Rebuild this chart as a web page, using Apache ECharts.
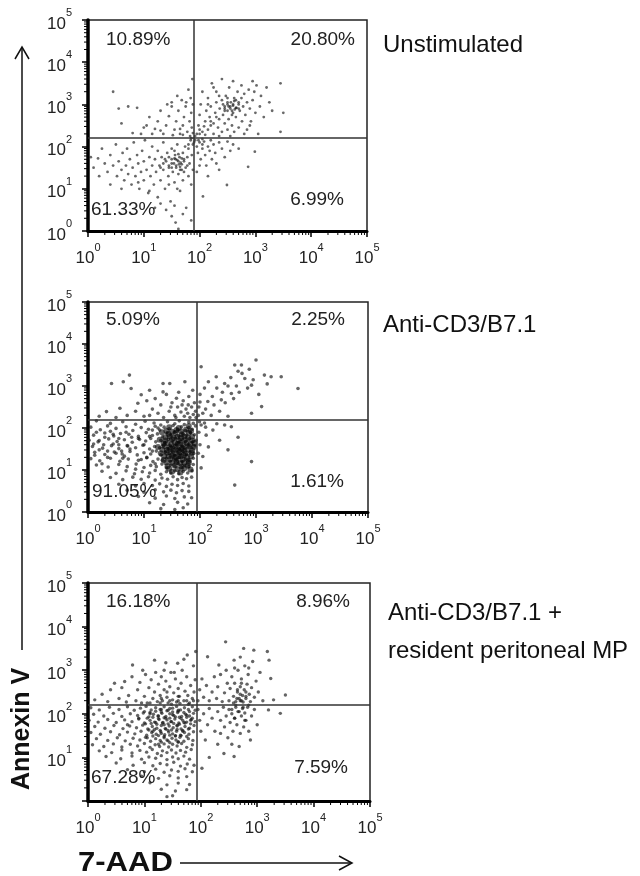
<!DOCTYPE html>
<html>
<head>
<meta charset="utf-8">
<script src="https://cdn.jsdelivr.net/npm/echarts@6/dist/echarts.min.js"></script>
<style>
html,body{margin:0;padding:0;background:#fff}
#chart{width:640px;height:876px}
</style>
</head>
<body>
<div id="chart"></div>
<script>
// values are log10 of the fluorescence: [7-AAD, Annexin V]
var decades = [0, 1, 2, 3, 4, 5];
var panelNames = ['Unstimulated', 'Anti-CD3/B7.1', 'Anti-CD3/B7.1 +', 'resident peritoneal MP'];
// quadrant percentages: upper-left, upper-right, lower-left, lower-right
var quadPct = [
  ['10.89%', '20.80%', '61.33%', '6.99%'],
  ['5.09%', '2.25%', '91.05%', '1.61%'],
  ['16.18%', '8.96%', '67.28%', '7.59%']
];
var gateX = [1.9, 1.95, 1.92];
var gateY = [2.21, 2.19, 2.2];

var unstimulated = [
  [0.45,3.3],[0.55,2.9],[0.72,2.95],[0.88,2.92],[0.6,2.55],[0.95,2.3],[1.05,2.5],[1.1,2.7],[1.2,2.42],[1.25,2.6],[1.3,2.85],[1.35,2.3],[1.4,2.5],[1.45,2.72],[1.5,2.95],[1.5,3.05],[1.55,2.4],[1.58,2.6],[1.62,2.85],[1.65,2.3],[1.68,3.1],[1.7,2.5],[1.72,2.7],[1.75,2.95],[1.78,2.35],[1.8,3.35],[1.82,2.6],[1.85,2.8],[1.86,2.45],[1.88,3.0],[1.87,3.6],[1.15,2.3],[1.0,2.45],[0.8,2.32],[1.42,3.0],[1.6,3.2],[1.76,3.05],[1.84,3.15],[1.3,2.38],[1.52,2.27],[1.7,2.28],[1.83,2.25],[1.65,2.42],[1.88,2.32],
  [1.95,2.3],[1.98,2.5],[2.0,2.75],[2.02,3.0],[2.05,3.3],[2.05,2.35],[2.1,2.6],[2.12,2.85],[2.15,3.15],[2.15,2.4],[2.18,2.7],[2.2,2.95],[2.22,3.5],[2.25,2.3],[2.25,2.55],[2.28,2.8],[2.3,3.05],[2.3,3.3],[2.33,2.45],[2.35,2.65],[2.36,2.9],[2.4,3.1],[2.4,2.35],[2.42,2.75],[2.45,2.55],[2.45,2.95],[2.47,3.2],[2.5,2.85],[2.5,3.0],[2.52,2.65],[2.53,3.4],[2.55,2.9],[2.56,3.05],[2.58,2.5],[2.6,2.8],[2.6,2.97],[2.62,3.15],[2.65,2.7],[2.66,2.92],[2.68,3.3],[2.7,2.45],[2.7,3.05],[2.72,2.85],[2.75,3.15],[2.76,2.6],[2.78,2.95],[2.8,3.25],[2.82,2.75],[2.85,3.05],[2.85,2.4],[2.88,3.35],[2.9,2.9],[2.92,2.6],[2.95,3.1],[2.98,3.3],[3.0,2.8],[3.02,3.45],[3.05,2.3],[3.08,2.95],[3.1,3.2],[3.15,2.7],[3.2,3.4],[3.25,3.05],[3.3,2.85],[3.45,3.5],[3.5,2.8],[3.45,2.35],[2.9,2.5],[2.55,2.25],[2.35,2.25],[2.1,2.28],[2.0,2.4],[2.08,2.48],[2.2,2.5],[2.5,2.4],[2.62,2.35],[2.8,2.3],[2.4,3.6],[2.25,3.4],[2.6,3.55],[2.75,3.45],[2.95,3.55],[2.15,3.0],[2.35,3.2],[2.5,3.15],[2.65,3.1],[2.45,2.85],[2.58,2.75],[2.7,2.9],[2.52,2.95],[2.63,2.88],
  [0.05,1.75],[0.18,1.72],[0.25,1.95],[0.3,1.6],[0.35,1.4],[0.4,1.8],[0.45,1.55],[0.5,2.05],[0.52,1.3],[0.55,1.65],[0.6,1.45],[0.62,1.85],[0.65,1.2],[0.68,1.55],[0.7,1.95],[0.72,1.35],[0.75,1.7],[0.78,1.1],[0.8,1.5],[0.82,2.1],[0.85,1.3],[0.88,1.8],[0.9,1.6],[0.92,1.0],[0.95,1.4],[0.97,1.9],[1.0,1.2],[1.0,1.65],[1.02,2.15],[1.05,1.45],[1.08,0.9],[1.1,1.75],[1.12,1.3],[1.15,1.55],[1.15,2.0],[1.18,1.1],[1.2,1.7],[1.22,1.4],[1.25,1.9],[1.25,0.8],[1.28,1.55],[1.3,1.2],[1.32,1.75],[1.35,2.1],[1.35,1.45],[1.38,1.0],[1.4,1.65],[1.42,1.85],[1.44,1.3],[1.45,1.55],[1.48,0.7],[1.5,1.7],[1.5,1.95],[1.52,1.4],[1.54,1.6],[1.55,1.15],[1.56,1.8],[1.58,1.5],[1.6,1.68],[1.6,2.05],[1.62,1.35],[1.63,1.58],[1.64,1.75],[1.65,0.95],[1.66,1.62],[1.68,1.45],[1.7,1.85],[1.7,1.2],[1.72,1.65],[1.74,2.0],[1.75,1.5],[1.76,0.55],[1.78,1.75],[1.8,1.3],[1.8,1.95],[1.82,1.6],[1.84,2.15],[1.85,1.1],[1.86,1.8],[1.88,1.45],[1.88,2.05],[1.57,0.2],[1.62,0.05],[1.5,0.35],[1.7,0.4],[1.55,0.6],[1.4,0.5],[1.3,0.65],[1.2,0.55],[1.85,0.25],[0.2,1.3],[0.1,1.5],[0.4,1.1],[0.6,1.0],[0.9,1.15],[1.1,0.95],[1.45,1.1],[1.6,1.0],[1.35,1.6],[1.5,1.5],[1.57,1.7],[1.65,1.52],[1.62,1.82],[1.72,1.4],[1.45,1.75],[1.55,1.9],[1.78,1.55],[1.68,1.72],
  [1.92,2.15],[1.95,2.0],[1.97,1.85],[2.0,2.1],[2.02,1.7],[2.05,1.95],[2.08,2.12],[2.1,1.8],[2.12,1.55],[2.15,2.0],[2.15,1.3],[2.18,1.9],[2.2,2.15],[2.22,1.7],[2.25,2.05],[2.28,1.85],[2.3,1.6],[2.35,2.1],[2.4,1.95],[2.45,1.75],[2.5,2.12],[2.55,1.9],[2.6,2.05],[2.7,1.95],[2.87,1.52],[2.99,1.88],[2.49,1.09],[2.06,0.82],[1.95,1.4],[2.0,1.55],[2.35,1.45],[2.05,2.18]
];
// denser spots of the unstimulated cloud
var unstimulatedDense = [
  [1.5,1.6],[1.58,1.55],[1.62,1.65],[1.68,1.58],[1.55,1.72],[1.45,1.5],[1.72,1.7],[1.65,1.45],[1.38,1.7],[1.3,1.5],
  [1.85,2.2],[1.92,2.25],[1.98,2.15],[1.9,2.1],[2.0,2.3],[1.8,2.05],[2.05,2.05],
  [2.45,2.9],[2.55,2.95],[2.6,3.0],[2.5,3.05],[2.65,2.92],[2.58,2.85],[2.7,3.0],[2.42,3.0],[2.62,3.08],[2.3,2.7],[2.2,2.6]
];

var antiCD3 = [
  [0.42,3.06],[0.63,3.1],[0.74,3.26],[0.77,2.94],[0.95,2.79],[1.1,2.9],[1.34,3.06],[1.46,3.06],[1.73,3.1],[1.34,2.86],[1.58,2.71],[1.79,2.55],[0.33,2.39],[0.57,2.47],[0.89,2.59],[1.05,2.65],[1.15,2.45],[1.2,2.7],[1.25,2.35],[1.3,2.55],[1.4,2.8],[1.45,2.4],[1.5,2.6],[1.55,2.3],[1.6,2.5],[1.62,2.85],[1.66,2.38],[1.7,2.65],[1.72,2.28],[1.75,2.45],[1.78,2.35],[1.8,2.75],[1.82,2.25],[1.85,2.5],[1.88,2.32],[1.9,2.6],[1.92,2.4],[0.7,2.3],[0.85,2.4],[1.0,2.28],[0.5,2.25],[1.1,2.3],[1.35,2.25],[1.48,2.5],[1.68,2.55],[1.57,2.25],[1.87,2.9],[1.93,2.25],[0.2,2.28],
  [2.02,3.46],[2.29,3.22],[2.62,3.5],[2.74,3.5],[3.0,3.62],[2.8,3.18],[2.92,3.02],[3.15,3.26],[3.27,3.22],[3.45,3.22],[3.75,2.94],[2.56,2.82],[2.44,3.06],[2.14,2.63],[2.38,2.67],[2.92,2.35],[2.05,2.35],[3.1,2.51],[1.98,2.5],[2.0,2.8],[2.08,2.95],[2.1,2.45],[2.15,3.1],[2.2,2.3],[2.22,2.75],[2.25,2.55],[2.3,2.95],[2.35,2.4],[2.4,2.85],[2.45,2.6],[2.5,3.0],[2.55,3.2],[2.6,2.7],[2.65,3.0],[2.7,2.85],[2.75,3.3],[2.85,2.95],[2.88,3.4],[2.95,3.15],[3.05,2.8],[3.2,3.05],[2.68,3.35],[2.5,2.28],[1.97,2.3],[2.0,2.62],
  [2.02,2.07],[2.11,1.83],[2.23,1.95],[2.5,1.48],[2.92,1.2],[2.62,0.64],[2.35,1.71],[2.05,1.32],[2.44,2.07],[2.56,2.03],[1.98,1.9],[2.0,1.6],[1.99,2.15],[2.08,2.12],[2.15,1.55],[2.3,2.1],[2.02,1.05],[2.68,1.78],[1.97,1.4],[2.1,2.02],
  [0.15,2.17],[0.4,2.11],[0.62,2.15],[0.85,2.09],[1.02,2.16],[1.18,2.12],[1.3,2.07],[1.42,2.15],[1.55,2.1],[1.63,2.17],[1.72,2.08],[1.8,2.14],[1.88,2.11],
  [0.05,2.02],[0.22,1.96],[0.35,2.05],[0.5,1.99],[0.68,2.03],[0.8,1.94],[0.95,2.01],[1.08,1.97],[1.2,2.04],[1.28,1.95],[1.36,2.02],[1.45,1.98],[1.52,2.06],[1.6,1.96],[1.67,2.03],[1.74,1.94],[1.8,2.01],[1.86,1.97],[1.92,2.05],
  [0.1,1.83],[0.3,1.88],[0.46,1.81],[0.58,1.87],[0.73,1.85],[0.9,1.8],[1.04,1.89],[1.15,1.82],[1.24,1.86],[1.33,1.79],[1.41,1.88],[1.48,1.84],[1.55,1.9],[1.62,1.81],[1.69,1.86],[1.76,1.83],[1.83,1.89],[1.9,1.84],
  [0.02,1.71],[0.18,1.67],[0.37,1.74],[0.52,1.68],[0.65,1.72],[0.79,1.66],[0.92,1.73],[1.03,1.69],[1.12,1.75],[1.21,1.67],[1.3,1.71],[1.37,1.65],[1.44,1.73],[1.5,1.69],[1.56,1.76],[1.62,1.66],[1.68,1.72],[1.74,1.68],[1.81,1.74],[1.87,1.67],[1.93,1.71],
  [0.08,1.56],[0.26,1.52],[0.42,1.58],[0.55,1.51],[0.71,1.57],[0.85,1.53],[0.98,1.59],[1.1,1.5],[1.19,1.56],[1.28,1.53],[1.35,1.58],[1.42,1.51],[1.48,1.57],[1.53,1.54],[1.58,1.6],[1.63,1.5],[1.68,1.56],[1.73,1.52],[1.79,1.58],[1.85,1.53],[1.91,1.57],
  [0.12,1.42],[0.3,1.37],[0.47,1.43],[0.61,1.38],[0.75,1.44],[0.88,1.36],[1.0,1.41],[1.12,1.38],[1.22,1.45],[1.3,1.36],[1.38,1.42],[1.45,1.39],[1.5,1.45],[1.55,1.35],[1.6,1.41],[1.65,1.38],[1.7,1.44],[1.76,1.37],[1.82,1.42],[1.89,1.39],
  [0.05,1.27],[0.21,1.22],[0.4,1.28],[0.57,1.21],[0.72,1.26],[0.9,1.23],[1.05,1.29],[1.16,1.2],[1.25,1.26],[1.33,1.23],[1.4,1.28],[1.47,1.21],[1.53,1.27],[1.58,1.24],[1.63,1.3],[1.68,1.2],[1.74,1.26],[1.8,1.23],[1.88,1.28],
  [0.15,1.12],[0.36,1.07],[0.55,1.13],[0.7,1.08],[0.86,1.14],[1.0,1.06],[1.12,1.11],[1.22,1.08],[1.32,1.14],[1.4,1.05],[1.48,1.12],[1.55,1.09],[1.61,1.15],[1.67,1.06],[1.73,1.11],[1.8,1.08],[1.88,1.13],
  [0.25,0.97],[0.5,0.92],[0.68,0.98],[0.83,0.91],[0.97,0.96],[1.1,0.93],[1.2,0.99],[1.3,0.9],[1.4,0.96],[1.48,0.93],[1.55,0.98],[1.62,0.91],[1.7,0.97],[1.78,0.93],[1.86,0.98],
  [0.4,0.82],[0.62,0.77],[0.8,0.83],[0.95,0.78],[1.08,0.84],[1.2,0.76],[1.32,0.81],[1.42,0.78],[1.52,0.84],[1.6,0.77],[1.68,0.82],[1.76,0.79],[1.85,0.83],
  [0.55,0.66],[0.85,0.62],[1.0,0.68],[1.15,0.63],[1.28,0.67],[1.4,0.61],[1.5,0.66],[1.6,0.63],[1.7,0.68],[1.8,0.62],
  [0.7,0.52],[1.0,0.47],[1.2,0.53],[1.35,0.48],[1.48,0.52],[1.58,0.46],[1.68,0.51],[1.8,0.49],
  [0.9,0.37],[1.2,0.33],[1.4,0.38],[1.55,0.32],[1.72,0.36],[1.85,0.34],
  [1.1,0.22],[1.35,0.18],[1.6,0.23],[1.78,0.19],[1.3,0.08],[1.55,0.06],[1.7,0.1],
  [0.15,1.9],[0.3,1.78],[0.45,1.62],[0.6,1.45],[0.2,1.48],[0.35,1.3],[0.55,1.75],[0.7,1.58],[0.1,1.62],[0.4,1.92],[0.65,1.33],[0.25,1.15],
  [1.1,1.8],[1.0,1.6],[1.15,1.45],[1.05,1.3],[1.2,1.15],[1.25,2.0],[0.9,1.75],[0.75,1.5],[0.55,1.6],[0.35,1.45],[0.2,1.7],[0.45,1.85],[0.62,1.28],
  [0.28,1.6],[0.5,1.4],[0.78,1.78],[0.95,1.25],[0.12,1.35],[0.68,1.9],[0.85,1.02],[1.15,1.95]
];
// the near-black core of the stimulated cloud
var antiCD3Core = [
  [1.4,1.93],[1.5,1.91],[1.58,1.95],[1.66,1.92],[1.75,1.96],[1.84,1.93],
  [1.32,1.9],[1.44,1.86],[1.56,1.88],[1.68,1.85],[1.8,1.89],
  [1.38,1.78],[1.46,1.8],[1.53,1.77],[1.6,1.79],[1.66,1.76],[1.72,1.8],[1.79,1.77],[1.86,1.79],
  [1.28,1.72],[1.38,1.7],[1.5,1.73],[1.62,1.7],[1.74,1.72],[1.86,1.7],
  [1.35,1.63],[1.42,1.64],[1.49,1.61],[1.55,1.65],[1.6,1.62],[1.65,1.64],[1.7,1.61],[1.76,1.64],[1.83,1.62],[1.9,1.64],
  [1.25,1.55],[1.36,1.57],[1.46,1.54],[1.57,1.56],[1.68,1.53],[1.79,1.57],[1.89,1.55],
  [1.33,1.48],[1.41,1.47],[1.47,1.5],[1.52,1.46],[1.57,1.49],[1.62,1.47],[1.67,1.5],[1.72,1.46],[1.78,1.49],[1.86,1.47],
  [1.3,1.4],[1.41,1.41],[1.52,1.38],[1.63,1.42],[1.74,1.39],[1.85,1.41],
  [1.36,1.33],[1.44,1.32],[1.5,1.34],[1.56,1.31],[1.61,1.33],[1.66,1.32],[1.71,1.35],[1.77,1.31],[1.84,1.33],
  [1.35,1.24],[1.47,1.26],[1.58,1.23],[1.69,1.25],[1.8,1.22],
  [1.4,1.18],[1.5,1.17],[1.58,1.19],[1.65,1.16],[1.72,1.18],[1.8,1.17],
  [1.42,1.09],[1.55,1.1],[1.67,1.08],[1.78,1.1],
  [1.45,1.03],[1.6,1.02],[1.72,1.04],[1.83,1.01],
  [1.5,0.96],[1.65,0.94],[1.45,2.02],[1.62,2.0],[1.8,2.05]
];

var withMP = [
  [0.79,3.12],[0.97,3.0],[1.18,3.23],[1.38,3.17],[1.59,3.16],[1.76,3.35],[1.91,3.43],[0.47,2.7],[0.65,2.74],[0.12,2.32],[0.25,2.45],[0.35,2.28],[0.4,2.55],[0.55,2.35],[0.6,2.6],[0.72,2.42],[0.78,2.85],[0.85,2.3],[0.88,2.55],[0.92,2.72],[1.0,2.4],[1.02,2.9],[1.05,2.25],[1.08,2.6],[1.12,2.78],[1.15,2.35],[1.18,2.5],[1.2,2.95],[1.23,2.28],[1.25,2.68],[1.28,2.42],[1.3,2.85],[1.32,2.3],[1.35,2.55],[1.38,2.75],[1.4,2.38],[1.42,2.25],[1.45,2.62],[1.47,2.95],[1.5,2.32],[1.52,2.48],[1.55,2.8],[1.57,2.27],[1.6,2.58],[1.62,2.4],[1.65,2.7],[1.67,3.0],[1.7,2.3],[1.72,2.52],[1.75,2.85],[1.77,2.42],[1.8,2.25],[1.82,2.65],[1.85,2.35],[1.87,3.1],[1.88,2.5],[1.9,2.78],[0.95,2.25],[1.1,2.25],[1.28,2.25],[1.48,2.22],[1.63,2.24],[1.78,2.22],[0.68,2.27],[1.35,3.0],[1.53,2.95],[1.7,3.25],[1.87,2.3],[1.6,2.3],[1.4,2.5],
  [2.44,3.65],[3.18,3.43],[2.94,3.46],[2.76,3.5],[2.59,3.23],[2.32,3.12],[2.12,3.31],[2.24,2.85],[2.47,2.7],[3.21,3.23],[3.24,2.81],[3.5,2.43],[3.29,2.32],[1.95,2.3],[1.98,2.55],[2.02,2.8],[2.05,2.38],[2.1,2.65],[2.15,2.3],[2.2,2.5],[2.28,2.35],[2.3,2.62],[2.35,2.9],[2.38,2.28],[2.42,2.48],[2.5,2.3],[2.52,2.58],[2.55,2.85],[2.58,2.4],[2.6,2.7],[2.62,2.28],[2.65,2.5],[2.66,3.0],[2.68,2.35],[2.7,2.62],[2.72,2.8],[2.74,2.42],[2.75,2.27],[2.77,2.55],[2.78,3.1],[2.8,2.35],[2.82,2.68],[2.84,2.9],[2.86,2.45],[2.88,2.28],[2.9,2.6],[2.92,3.2],[2.95,2.38],[2.98,2.75],[3.02,2.5],[3.05,2.95],[3.1,2.3],[2.6,3.05],[2.45,3.0],[2.7,3.3],[2.85,3.05],[2.64,2.35],[2.72,2.3],[2.58,2.25],[2.8,2.5],
  [3.41,2.01],[2.35,1.55],[2.41,1.09],[2.59,1.02],[2.68,1.25],[2.88,1.4],[3.2,2.09],[1.95,2.1],[1.98,1.85],[2.0,1.6],[2.05,2.0],[2.08,1.4],[2.12,1.75],[2.15,2.12],[2.2,1.9],[2.25,1.6],[2.3,2.05],[2.35,1.85],[2.4,2.15],[2.42,1.7],[2.45,1.95],[2.48,1.45],[2.5,2.1],[2.52,1.8],[2.55,2.0],[2.57,1.6],[2.6,1.9],[2.62,2.15],[2.64,1.75],[2.66,2.05],[2.7,1.55],[2.72,1.95],[2.74,2.12],[2.76,1.7],[2.78,2.02],[2.8,1.85],[2.83,2.15],[2.85,1.6],[2.9,1.95],[2.95,2.1],[3.0,1.75],[2.55,1.3],[2.3,1.3],[2.15,1.0],[2.02,0.75],
  [0.05,2.14],[0.2,2.09],[0.38,2.15],[0.55,2.1],[0.7,2.16],[0.82,2.08],[0.93,2.13],[1.03,2.17],[1.12,2.09],[1.2,2.14],[1.28,2.1],[1.35,2.16],[1.42,2.08],[1.5,2.13],[1.57,2.17],[1.64,2.09],[1.71,2.14],[1.78,2.1],[1.85,2.16],[1.9,2.08],
  [0.1,1.99],[0.28,1.95],[0.45,2.01],[0.6,1.94],[0.75,2.0],[0.88,1.96],[0.98,2.02],[1.08,1.93],[1.16,1.99],[1.24,1.95],[1.31,2.01],[1.38,1.94],[1.45,2.0],[1.52,1.96],[1.59,2.03],[1.66,1.94],[1.73,1.99],[1.8,1.95],[1.87,2.01],
  [0.02,1.85],[0.18,1.81],[0.35,1.87],[0.5,1.8],[0.65,1.86],[0.78,1.82],[0.9,1.88],[1.0,1.79],[1.1,1.85],[1.18,1.81],[1.26,1.87],[1.33,1.8],[1.4,1.86],[1.47,1.82],[1.54,1.88],[1.61,1.79],[1.68,1.85],[1.75,1.81],[1.83,1.87],[1.9,1.82],
  [0.12,1.71],[0.3,1.67],[0.46,1.73],[0.62,1.66],[0.74,1.72],[0.86,1.68],[0.97,1.74],[1.06,1.65],[1.14,1.71],[1.22,1.67],[1.3,1.73],[1.37,1.66],[1.44,1.72],[1.51,1.68],[1.58,1.74],[1.65,1.65],[1.72,1.71],[1.8,1.67],[1.88,1.73],
  [0.05,1.57],[0.22,1.53],[0.4,1.59],[0.56,1.52],[0.7,1.58],[0.83,1.54],[0.94,1.6],[1.04,1.51],[1.13,1.57],[1.21,1.53],[1.29,1.59],[1.36,1.52],[1.43,1.58],[1.5,1.54],[1.57,1.6],[1.64,1.51],[1.71,1.57],[1.79,1.53],[1.87,1.59],
  [0.15,1.43],[0.35,1.39],[0.52,1.45],[0.66,1.38],[0.8,1.44],[0.92,1.4],[1.02,1.46],[1.11,1.37],[1.2,1.43],[1.28,1.39],[1.35,1.45],[1.42,1.38],[1.49,1.44],[1.56,1.4],[1.63,1.46],[1.7,1.37],[1.78,1.43],[1.86,1.39],
  [0.08,1.29],[0.28,1.25],[0.45,1.31],[0.6,1.24],[0.75,1.3],[0.88,1.26],[1.0,1.32],[1.1,1.23],[1.19,1.29],[1.27,1.25],[1.35,1.31],[1.43,1.24],[1.5,1.3],[1.58,1.26],[1.66,1.32],[1.75,1.23],[1.85,1.29],
  [0.2,1.15],[0.42,1.11],[0.6,1.17],[0.78,1.1],[0.92,1.16],[1.04,1.12],[1.14,1.18],[1.23,1.09],[1.32,1.15],[1.4,1.11],[1.48,1.17],[1.56,1.1],[1.64,1.16],[1.73,1.12],[1.83,1.18],
  [0.32,1.02],[0.58,0.97],[0.78,1.03],[0.95,0.96],[1.08,1.01],[1.2,0.98],[1.3,1.04],[1.4,0.95],[1.5,1.01],[1.6,0.97],[1.7,1.03],[1.8,0.96],
  [0.5,0.87],[0.8,0.82],[1.0,0.88],[1.15,0.81],[1.28,0.86],[1.4,0.83],[1.52,0.89],[1.64,0.8],[1.76,0.85],[1.88,0.82],
  [0.7,0.72],[1.0,0.67],[1.2,0.73],[1.35,0.66],[1.48,0.71],[1.6,0.68],[1.72,0.74],[1.85,0.67],
  [0.95,0.57],[1.25,0.52],[1.45,0.58],[1.6,0.53],[1.75,0.56],
  [1.1,0.42],[1.4,0.37],[1.6,0.41],[1.8,0.38],
  [1.3,0.27],[1.55,0.23],[1.75,0.26],[1.4,0.1],[1.5,0.12],
  [1.0,2.05],[1.1,2.03],[1.2,2.06],[1.3,2.04],[1.4,2.07],[1.5,2.04],[1.6,2.06],[1.7,2.03],[1.8,2.05],
  [1.05,1.9],[1.15,1.92],[1.25,1.89],[1.35,1.91],[1.45,1.9],[1.55,1.93],[1.65,1.89],[1.75,1.92],[1.85,1.9],
  [1.02,1.77],[1.12,1.78],[1.22,1.76],[1.32,1.79],[1.42,1.77],[1.52,1.78],[1.62,1.76],[1.72,1.79],[1.82,1.77],
  [1.08,1.63],[1.18,1.64],[1.28,1.62],[1.38,1.65],[1.48,1.63],[1.58,1.64],[1.68,1.62],[1.78,1.65],
  [1.15,1.49],[1.25,1.5],[1.35,1.48],[1.45,1.51],[1.55,1.49],[1.65,1.5],[1.75,1.48],
  [1.3,1.35],[1.45,1.34],[1.6,1.36]
];
// denser spots: main cloud and the 7-AAD+ cluster
var withMPDense = [
  [1.1,2.0],[1.25,1.95],[1.38,1.9],[1.5,1.98],[1.62,1.92],[1.75,1.97],[1.3,2.1],[1.45,2.12],[1.6,2.08],[1.2,1.8],[1.35,1.75],[1.48,1.82],[1.58,1.72],[1.7,1.8],[1.82,1.85],[1.15,1.6],[1.3,1.55],[1.42,1.62],[1.55,1.5],[1.68,1.6],[1.4,1.4],[1.25,1.3],[1.6,1.35],[1.05,1.45],[1.45,2.3],[1.6,2.4],[1.3,2.35],[1.75,2.3],[0.9,1.9],[0.7,1.75],
  [2.62,2.2],[2.7,2.3],[2.75,2.15],[2.68,2.05],[2.8,2.4],[2.65,2.55],[2.72,2.7],[2.6,1.9],[2.78,1.85],[2.7,2.45],[2.85,2.2],[2.55,2.1]
];

var panels = [[unstimulated, unstimulatedDense], [antiCD3, antiCD3Core], [withMP, withMPDense]];

var minorTicks = [];
decades.slice(0, 5).forEach(function (d) {
  [2, 3, 4, 5, 6, 7, 8, 9].forEach(function (m) { minorTicks.push([d + Math.log10(m), 0]); });
});

var font = '"Liberation Sans", Arial, sans-serif';
var grids = [
  { left: 88, top: 20, width: 279, height: 211 },
  { left: 88, top: 302, width: 280, height: 210 },
  { left: 88, top: 583, width: 282, height: 218 }
];
var pctPos = [
  [[106, 40], [355, 40], [91, 210], [344, 200]],
  [[106, 320], [345, 320], [92, 492], [344, 482]],
  [[106, 602], [350, 602], [91, 778], [348, 768]]
];
var dotSize = [[2.8, 2.8], [3.6, 6], [3.4, 3.4]];
var dotColor = [['rgba(20,20,20,0.8)', 'rgba(20,20,20,0.8)'], ['rgba(20,20,20,0.82)', 'rgba(8,8,8,0.78)'], ['rgba(20,20,20,0.82)', 'rgba(20,20,20,0.82)']];

var rich = {
  b: { fontSize: 17, fontFamily: font, color: '#222', padding: [8, 0, 0, 0], verticalAlign: 'bottom' },
  e: { fontSize: 11, fontFamily: font, color: '#222', verticalAlign: 'top' }
};
function powLabel(hideZero) {
  return function (v) {
    if (hideZero && v === 0) return '';
    return '{b|10}{e|' + v + '}';
  };
}

var myChart = echarts.init(document.getElementById('chart'));
var option = {
  animation: false,
  grid: grids.map(function (g) {
    return Object.assign({ show: true, borderColor: '#222', borderWidth: 1.5, backgroundColor: 'transparent' }, g);
  }),
  xAxis: grids.map(function (g, i) {
    return {
      type: 'value', gridIndex: i, min: 0, max: 5, interval: 1,
      axisLine: { show: true, onZero: false, lineStyle: { color: '#000', width: 3 } },
      axisTick: { show: true, length: 6, lineStyle: { color: '#000', width: 1.5 } },
      axisLabel: { margin: 11, formatter: powLabel(false), rich: rich },
      splitLine: { show: false }
    };
  }),
  yAxis: grids.map(function (g, i) {
    return {
      type: 'value', gridIndex: i, min: 0, max: 5, interval: 1,
      axisLine: { show: true, onZero: false, lineStyle: { color: '#000', width: 3.5 } },
      axisTick: { show: true, length: 6, lineStyle: { color: '#000', width: 1.5 } },
      axisLabel: { margin: 16, formatter: powLabel(i === 2), rich: rich },
      splitLine: { show: false }
    };
  }),
  series: [],
  graphic: []
};

panels.forEach(function (sets, i) {
  sets.forEach(function (cells, k) {
    var s = {
      type: 'scatter', xAxisIndex: i, yAxisIndex: i, data: cells,
      symbol: 'circle', symbolSize: dotSize[i][k],
      itemStyle: { color: dotColor[i][k] },
      silent: true
    };
    if (k === 0) {
      s.markLine = {
        silent: true, symbol: 'none', label: { show: false },
        lineStyle: { color: '#333', width: 1.5, type: 'solid' },
        data: [{ xAxis: gateX[i] }, { yAxis: gateY[i] }]
      };
    }
    option.series.push(s);
  });
  option.series.push({
    type: 'custom', xAxisIndex: i, yAxisIndex: i, data: minorTicks, clip: false, silent: true,
    renderItem: function (params, api) {
      var v = api.value(0);
      var px = api.coord([v, 0]);
      var py = api.coord([0, v]);
      return {
        type: 'group', children: [
          { type: 'line', shape: { x1: px[0], y1: px[1], x2: px[0], y2: px[1] + 4 }, style: { stroke: '#000', lineWidth: 1 } },
          { type: 'line', shape: { x1: py[0] - 4, y1: py[1], x2: py[0], y2: py[1] }, style: { stroke: '#000', lineWidth: 1 } }
        ]
      };
    }
  });
  quadPct[i].forEach(function (t, q) {
    option.graphic.push({
      type: 'text', x: pctPos[i][q][0], y: pctPos[i][q][1],
      style: { text: t, fill: '#222', fontSize: 19, fontFamily: font, align: q % 2 === 0 ? 'left' : 'right', verticalAlign: 'middle' }
    });
  });
});

var nameStyle = { fill: '#111', fontSize: 24, fontFamily: font, align: 'left', verticalAlign: 'middle' };
[[383, 45], [383, 325], [388, 613], [388, 651]].forEach(function (p, k) {
  option.graphic.push({ type: 'text', x: p[0], y: p[1], style: Object.assign({ text: panelNames[k] }, nameStyle) });
});

// axis titles with arrows
option.graphic.push(
  { type: 'text', x: 22, y: 729, rotation: Math.PI / 2,
    style: { text: 'Annexin V', fill: '#111', fontSize: 25, fontWeight: 'bold', fontFamily: font, align: 'center', verticalAlign: 'middle' } },
  { type: 'line', shape: { x1: 22, y1: 48, x2: 22, y2: 650 }, style: { stroke: '#111', lineWidth: 1.5 } },
  { type: 'polyline', shape: { points: [[15, 59], [22, 47], [29, 59]] }, style: { stroke: '#111', lineWidth: 1.5, fill: null } },
  { type: 'text', x: 78, y: 864, scaleX: 1.15,
    style: { text: '7-AAD', fill: '#111', fontSize: 27, fontWeight: 'bold', fontFamily: font, align: 'left', verticalAlign: 'middle' } },
  { type: 'line', shape: { x1: 180, y1: 863, x2: 351, y2: 863 }, style: { stroke: '#111', lineWidth: 1.5 } },
  { type: 'polyline', shape: { points: [[339, 856], [352, 863], [339, 870]] }, style: { stroke: '#111', lineWidth: 1.5, fill: null } }
);

myChart.setOption(option);
window.addEventListener('resize', function () { myChart.resize(); });
</script>
</body>
</html>
